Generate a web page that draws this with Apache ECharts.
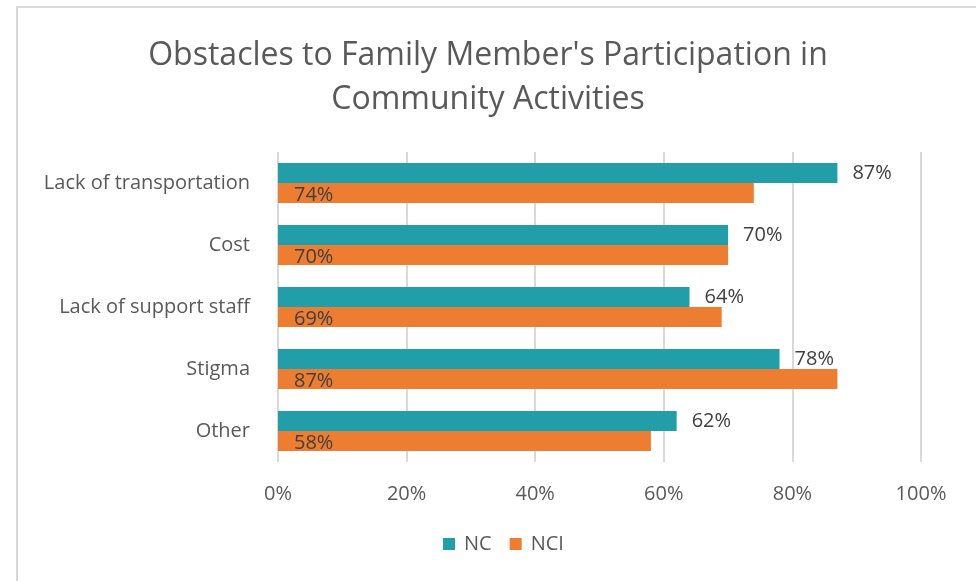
<!DOCTYPE html>
<html>
<head>
<meta charset="utf-8">
<script src="https://cdn.jsdelivr.net/npm/echarts@6/dist/echarts.min.js"></script>
<style>
  html, body { margin: 0; padding: 0; background: #fff; }
  #chart { width: 976px; height: 581px; }
</style>
</head>
<body>
<div id="chart"></div>
<script>
// Obstacles reported, share of respondents
const categories = ['Lack of transportation', 'Cost', 'Lack of support staff', 'Stigma', 'Other'];
const ncValues = [87, 70, 64, 78, 62];
const nciValues = [74, 70, 69, 87, 58];
const xTicks = [0, 20, 40, 60, 80, 100];

const FONT = '"Open Sans", sans-serif';
const chart = echarts.init(document.getElementById('chart'));

chart.setOption({
  animation: false,
  backgroundColor: '#ffffff',
  title: {
    text: "Obstacles to Family Member's Participation in\nCommunity Activities",
    left: 'center',
    top: 29,
    textStyle: { fontFamily: FONT, fontSize: 32, fontWeight: 'normal', color: '#595959', lineHeight: 44 }
  },
  graphic: [{
    type: 'rect',
    shape: { x: 17, y: 7, width: 1000, height: 620 },
    style: { fill: 'none', stroke: '#d9d9d9', lineWidth: 2 },
    silent: true
  }],
  legend: {
    data: ['NC', 'NCI'],
    bottom: 22,
    left: 438,
    itemWidth: 12,
    itemHeight: 12,
    itemGap: 18,
    icon: 'rect',
    textStyle: { fontFamily: FONT, fontSize: 20, color: '#595959', padding: [0, 0, 0, 4] }
  },
  grid: { left: 278, right: 55, top: 152, bottom: 119, containLabel: false },
  xAxis: {
    type: 'value',
    min: 0,
    max: 100,
    interval: 20,
    axisLine: { show: false },
    axisTick: { show: false },
    splitLine: { lineStyle: { color: '#d9d9d9', width: 2 } },
    axisLabel: {
      margin: 22,
      fontFamily: FONT, fontSize: 20, color: '#595959',
      formatter: v => xTicks.includes(v) ? v + '%' : ''
    }
  },
  yAxis: {
    type: 'category',
    data: categories,
    inverse: true,
    axisLine: { show: false },
    axisTick: { show: false },
    axisLabel: { margin: 28, fontFamily: FONT, fontSize: 20, color: '#595959' }
  },
  series: [
    {
      name: 'NC',
      type: 'bar',
      data: ncValues,
      barWidth: 20,
      barGap: '0%',
      itemStyle: { color: '#219ea7' },
      label: {
        show: true, position: 'right', distance: 15,
        fontFamily: FONT, fontSize: 20, color: '#404040',
        formatter: p => p.value + '%'
      }
    },
    {
      name: 'NCI',
      type: 'bar',
      data: nciValues,
      barWidth: 20,
      barGap: '0%',
      itemStyle: { color: '#ed7d31' },
      label: {
        show: true, position: 'insideLeft', distance: 16, offset: [0, 2],
        fontFamily: FONT, fontSize: 20, color: '#404040',
        formatter: p => p.value + '%'
      }
    }
  ]
});
</script>
</body>
</html>
